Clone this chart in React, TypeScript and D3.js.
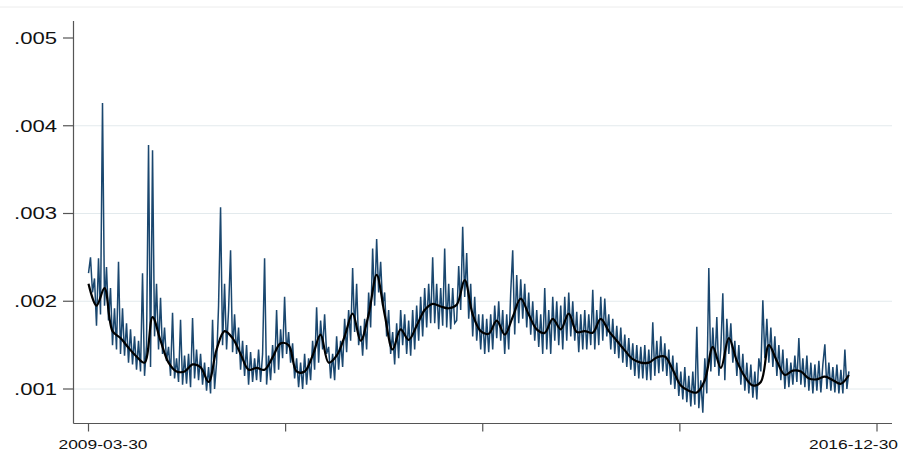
import * as d3 from "d3";

// dates of the series and axis
const FIRST_DAY = "2009-03-30";
const LAST_DAY = "2016-09-20";
const xTickDates = ["2009-03-30", "2011-03-08", "2013-02-13", "2015-01-22", "2016-12-30"];
const xTickLabels = ["2009-03-30", "", "", "", "2016-12-30"];

// y values are in thousandths (1 = .001)
const yTickValues = [1, 2, 3, 4, 5];
const yTickLabels = [".001", ".002", ".003", ".004", ".005"];

// daily series (thousandths)
const daily = [
  2.32, 2.5, 2.1, 2.26, 1.72, 2.49, 1.85, 4.26, 1.95, 2.39, 1.78, 2.15,
  1.5, 1.92, 1.45, 2.45, 1.4, 1.92, 1.38, 1.75, 1.3, 1.68, 1.28, 1.6,
  1.22, 1.55, 1.2, 2.32, 1.15, 1.5, 3.78, 1.25, 3.72, 1.6, 2.2, 1.45,
  2.04, 1.4, 1.7, 1.32, 1.48, 1.15, 1.87, 1.12, 1.35, 1.08, 1.79, 1.05,
  1.38, 1.06, 1.4, 1.02, 1.81, 1.12, 1.45, 1.1, 1.4, 1.05, 1.3, 0.98,
  1.25, 0.95, 1.79, 1.0, 1.3, 1.95, 3.07, 1.5, 2.2, 1.45, 1.9, 2.58,
  1.42, 1.85, 1.4, 1.7, 1.22, 1.55, 1.15, 1.5, 1.05, 1.42, 1.08, 1.35,
  1.1, 1.45, 1.08, 1.4, 2.49, 1.05, 1.38, 1.1, 1.5, 1.18, 1.9, 1.22,
  1.68, 1.35, 2.05, 1.4, 1.65, 1.3, 1.52, 1.12, 1.35, 1.02, 1.3, 1.0,
  1.4, 1.05, 1.35, 1.1, 1.55, 1.22, 1.93, 1.3, 1.78, 1.45, 1.85, 1.4,
  1.48, 1.12, 1.4, 1.1, 1.6, 1.22, 1.55, 1.25, 1.8, 1.42, 1.9, 1.55,
  2.38, 1.65, 2.2, 1.5, 1.72, 1.38, 1.8, 1.45, 2.1, 1.7, 2.6, 1.95,
  2.71, 2.1, 2.45, 1.95, 2.1, 1.6, 1.9, 1.4, 1.65, 1.28, 1.75, 1.35,
  1.9, 1.5, 1.85, 1.4, 1.78, 1.38, 1.9, 1.45, 1.95, 1.55, 2.05, 1.6,
  2.15, 1.7, 2.2, 1.75, 2.5, 1.75, 2.2, 1.68, 2.15, 1.72, 2.6, 1.7,
  2.2, 1.68, 2.15, 1.75, 1.78, 2.4, 1.9, 2.85, 2.05, 2.55, 1.8, 2.2,
  1.6, 2.05, 1.55, 1.85, 1.45, 1.85, 1.4, 1.8, 1.42, 1.85, 1.45, 1.95,
  1.58, 2.0, 1.55, 1.9, 1.4, 1.85, 1.45, 2.1, 2.58, 1.62, 2.3, 1.75,
  2.25, 1.8, 2.2, 1.7, 2.1, 1.62, 2.0, 1.55, 1.9, 1.48, 1.85, 1.4,
  2.15, 1.45, 1.9, 1.4, 2.05, 1.55, 2.0, 1.5, 1.95, 1.45, 2.05, 1.55,
  2.1, 1.6, 2.0, 1.55, 1.88, 1.42, 1.85, 1.45, 1.9, 1.45, 1.85, 1.5,
  2.13, 1.45, 1.9, 1.5, 2.05, 1.55, 2.03, 1.6, 1.85, 1.45, 1.8, 1.4,
  1.72, 1.35, 1.7, 1.3, 1.62, 1.25, 1.58, 1.22, 1.52, 1.15, 1.5, 1.12,
  1.48, 1.12, 1.5, 1.1, 1.45, 1.1, 1.76, 1.15, 1.55, 1.18, 1.6, 1.2,
  1.52, 1.15, 1.45, 1.05, 1.38, 1.0, 1.3, 0.92, 1.2, 0.88, 1.25, 0.85,
  1.15, 0.8, 1.2, 0.82, 1.71, 0.78, 1.1, 0.73, 1.35, 0.95, 2.38, 1.2,
  1.7, 1.25, 1.82, 1.15, 1.45, 2.09, 1.1, 1.8, 1.4, 1.75, 1.3, 1.55,
  1.15, 1.5, 1.05, 1.4, 0.98, 1.3, 0.95, 1.28, 0.9, 1.2, 0.88, 1.35,
  1.2, 2.01, 1.35, 1.8, 1.3, 1.7, 1.25, 1.6, 1.15, 1.5, 1.1, 1.45,
  1.0, 1.35, 1.02, 1.3, 1.05, 1.38, 1.08, 1.58, 1.05, 1.35, 1.02, 1.38,
  0.98, 1.3, 0.95, 1.28, 0.98, 1.32, 0.96, 1.28, 1.51, 1.0, 1.3, 0.98,
  1.25, 0.96, 1.28, 0.95, 1.22, 0.95, 1.45, 1.0, 1.2,
];

// smoothed series (thousandths)
const smooth = [
  2.2, 1.95, 2.15, 1.66, 1.58, 1.47, 1.37, 1.3, 1.82, 1.55, 1.3, 1.2,
  1.2, 1.28, 1.25, 1.08, 1.45, 1.66, 1.58, 1.4, 1.22, 1.24, 1.22, 1.36,
  1.52, 1.5, 1.2, 1.2, 1.38, 1.62, 1.3, 1.38, 1.6, 1.86, 1.55, 1.85,
  2.3, 1.85, 1.45, 1.68, 1.56, 1.72, 1.9, 1.97, 1.94, 1.92, 1.96, 2.24,
  1.85, 1.66, 1.63, 1.78, 1.62, 1.82, 2.03, 1.85, 1.68, 1.64, 1.8, 1.68,
  1.86, 1.65, 1.66, 1.64, 1.8, 1.66, 1.55, 1.44, 1.34, 1.3, 1.3, 1.36,
  1.37, 1.22, 1.04, 0.98, 0.96, 1.1, 1.48, 1.24, 1.58, 1.32, 1.14, 1.04,
  1.08, 1.5, 1.32, 1.16, 1.21, 1.2, 1.12, 1.11, 1.14, 1.1, 1.06, 1.16,
];

const FONT = "'Liberation Sans', Arial, Helvetica, sans-serif";

export default function App() {
  const width = 903;
  const height = 458;
  const plotLeft = 73.5;
  const plotRight = 892;
  const plotTop = 21;
  const plotBottom = 423.5;

  const parse = d3.timeParse("%Y-%m-%d");
  const x = d3
    .scaleTime()
    .domain([parse(xTickDates[0])!, parse(xTickDates[xTickDates.length - 1])!])
    .range([88.5, 877]);
  const y = d3.scaleLinear().domain([1, 5]).range([389, 38]);

  const t0 = parse(FIRST_DAY)!.getTime();
  const t1 = parse(LAST_DAY)!.getTime();
  const dateAt = (i: number, n: number) => new Date(t0 + ((t1 - t0) * i) / (n - 1));

  const dailyLine = d3
    .line<number>()
    .x((d, i, arr) => x(dateAt(i, arr.length)))
    .y((d) => y(d));

  const smoothLine = d3
    .line<number>()
    .x((d, i, arr) => x(dateAt(i, arr.length)))
    .y((d) => y(d))
    .curve(d3.curveCatmullRom.alpha(0.5));

  return (
    <svg
      width={width}
      height={height}
      style={{ position: "absolute", left: 0, top: 0, background: "#fff" }}
    >
      <line x1={0} x2={width} y1={7} y2={7} stroke="#ececec" strokeWidth={1} />

      {/* grid */}
      {yTickValues.slice(0, 4).map((v) => (
        <line
          key={"g" + v}
          x1={plotLeft}
          x2={plotRight}
          y1={y(v)}
          y2={y(v)}
          stroke="#e3eaed"
          strokeWidth={1}
        />
      ))}

      {/* series */}
      <path
        d={dailyLine(daily) || ""}
        fill="none"
        stroke="#1a476f"
        strokeWidth={1.5}
        strokeLinejoin="miter"
      />
      <path
        d={smoothLine(smooth) || ""}
        fill="none"
        stroke="#000"
        strokeWidth={2.2}
        strokeLinejoin="round"
      />

      {/* y axis */}
      <line x1={plotLeft} x2={plotLeft} y1={plotTop} y2={plotBottom} stroke="#555" strokeWidth={1.2} />
      {yTickValues.map((v, i) => (
        <g key={"y" + v}>
          <line x1={63} x2={plotLeft} y1={y(v)} y2={y(v)} stroke="#555" strokeWidth={1.2} />
          <text
            x={14}
            y={y(v) + 5.8}
            fontFamily={FONT}
            fontSize={16}
            fill="#111"
            textLength={43}
            lengthAdjust="spacingAndGlyphs"
          >
            {yTickLabels[i]}
          </text>
        </g>
      ))}

      {/* x axis */}
      <line x1={plotLeft} x2={plotRight} y1={plotBottom} y2={plotBottom} stroke="#555" strokeWidth={1.2} />
      {xTickDates.map((s, i) => {
        const px = x(parse(s)!);
        const label = xTickLabels[i];
        const last = i === xTickDates.length - 1;
        return (
          <g key={"x" + s}>
            <line x1={px} x2={px} y1={plotBottom} y2={plotBottom + 8} stroke="#555" strokeWidth={1.2} />
            {label && (
              <text
                x={last ? px - 68 : px - 30}
                y={449}
                fontFamily={FONT}
                fontSize={13.3}
                fill="#111"
                textLength={89}
                lengthAdjust="spacingAndGlyphs"
              >
                {label}
              </text>
            )}
          </g>
        );
      })}
    </svg>
  );
}
